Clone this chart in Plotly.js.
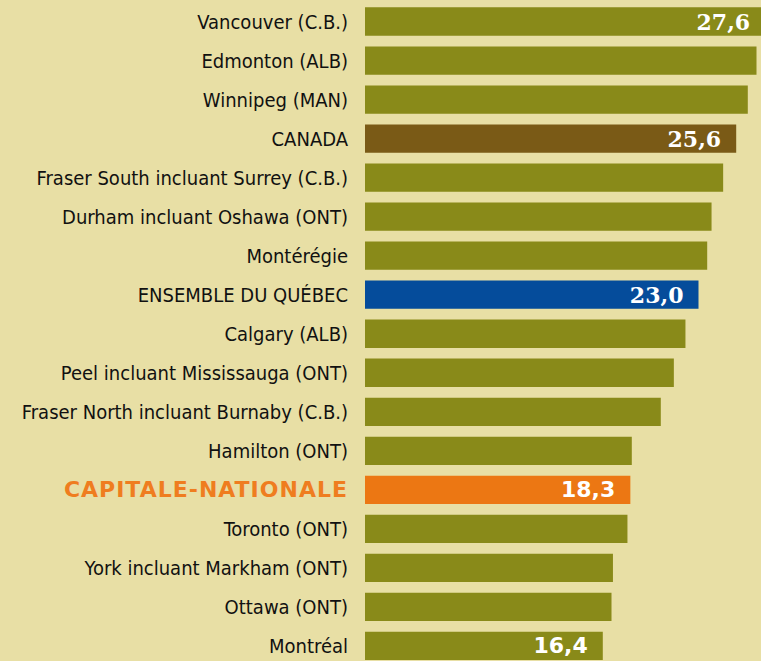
<!DOCTYPE html>
<html>
<head>
<meta charset="utf-8">
<script src="https://cdn.plot.ly/plotly-3.0.1.min.js"></script>
<style>
  html, body { margin: 0; padding: 0; background: #e8dfa5; }
  #chart { width: 761px; height: 661px; }
</style>
</head>
<body>
<div id="chart"></div>
<script>
// ---- data ----
const categories = [
  "Vancouver (C.B.)",
  "Edmonton (ALB)",
  "Winnipeg (MAN)",
  "CANADA",
  "Fraser South incluant Surrey (C.B.)",
  "Durham incluant Oshawa (ONT)",
  "Montérégie",
  "ENSEMBLE DU QUÉBEC",
  "Calgary (ALB)",
  "Peel incluant Mississauga (ONT)",
  "Fraser North incluant Burnaby (C.B.)",
  "Hamilton (ONT)",
  "CAPITALE-NATIONALE",
  "Toronto (ONT)",
  "York incluant Markham (ONT)",
  "Ottawa (ONT)",
  "Montréal"
];
const values = [27.6, 27.0, 26.4, 25.6, 24.7, 23.9, 23.6, 23.0, 22.1, 21.3, 20.4, 18.4, 18.3, 18.1, 17.1, 17.0, 16.4];
const labelled = ["Vancouver (C.B.)", "CANADA", "ENSEMBLE DU QUÉBEC", "CAPITALE-NATIONALE", "Montréal"];

// ---- styles ----
const OLIVE = "#898a19", BROWN = "#7a5a16", BLUE = "#054c9b", ORANGE = "#ec7713";
const specialColor = { "CANADA": BROWN, "ENSEMBLE DU QUÉBEC": BLUE, "CAPITALE-NATIONALE": ORANGE };
const sansLabels = ["CAPITALE-NATIONALE", "Montréal"];

const barColors = categories.map(c => specialColor[c] || OLIVE);
const texts = categories.map((c, i) =>
  labelled.includes(c) ? values[i].toFixed(1).replace(".", ",") + "\u00A0\u2009" : "");
const textFamilies = categories.map(c =>
  sansLabels.includes(c) ? "DejaVu Sans" : "DejaVu Serif");

const tickText = categories.map(c => c === "CAPITALE-NATIONALE"
  ? '<span style="font-family:\'DejaVu Sans\';font-weight:bold;font-size:22px;letter-spacing:1px;color:#ef7d1f">' + c + '</span>'
  : c);

const trace = {
  type: "bar",
  orientation: "h",
  y: categories,
  x: values,
  marker: { color: barColors, line: { width: 0 } },
  text: texts,
  textposition: "inside",
  insidetextanchor: "end",
  constraintext: "none",
  textfont: { family: textFamilies, size: 22, color: "#ffffff", weight: "bold" },
  hoverinfo: "none",
  cliponaxis: true
};

const pxPerUnit = 14.5;
const plotW = 761 - 365;

const layout = {
  width: 761,
  height: 661,
  margin: { l: 365, r: 0, t: 2, b: 0, pad: 0 },
  paper_bgcolor: "#e8dfa5",
  plot_bgcolor: "#e8dfa5",
  bargap: 0.275,
  showlegend: false,
  xaxis: {
    range: [0, plotW / pxPerUnit],
    visible: false,
    fixedrange: true
  },
  yaxis: {
    type: "category",
    categoryorder: "array",
    categoryarray: categories,
    tickvals: categories,
    ticktext: tickText,
    range: [categories.length - 1 + 0.385, -0.5],
    showgrid: false,
    showline: false,
    zeroline: false,
    ticks: "",
    ticklabelstandoff: 16,
    tickfont: { family: "DejaVu Sans Condensed, DejaVu Sans", size: 20, color: "#111111" },
    fixedrange: true
  }
};

Plotly.newPlot("chart", [trace], layout, { displayModeBar: false, staticPlot: true });
</script>
</body>
</html>
